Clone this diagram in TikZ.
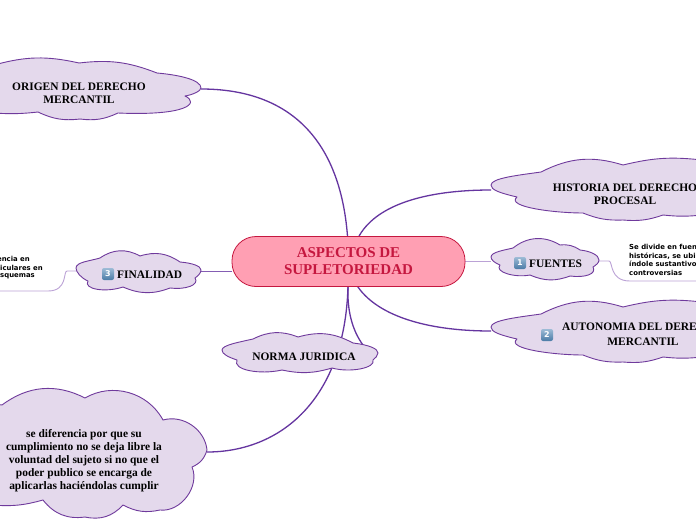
\documentclass[tikz,border=0pt]{standalone}
\usepackage{fontspec}
\setmainfont{Liberation Serif}
\newfontfamily\notefont{DejaVu Sans}
\definecolor{cloudfill}{HTML}{E4D9EC}
\definecolor{cloudline}{HTML}{6F3A9C}
\definecolor{linkdark}{HTML}{6535A0}
\definecolor{linklight}{HTML}{BBA2D6}
\definecolor{mainfill}{HTML}{FF9FB3}
\definecolor{mainline}{HTML}{C5173F}
\definecolor{badgetop}{HTML}{9DBBD6}
\definecolor{badgebot}{HTML}{4A7BA6}
\tikzset{
 cloudshape/.style={draw=cloudline,fill=cloudfill,line width=0.9pt,line join=round},
 lb/.style={bend left=#1},
 cloudtext/.style={font=\fontsize{11.45}{13}\selectfont\bfseries,align=center,text=black,inner sep=0pt},
 mainsize/.style={minimum width=233pt,minimum height=50pt,inner sep=0pt},
 maintext/.style={mainsize,draw=mainline,fill=mainfill,rounded corners=24pt,line width=0.8pt,align=center,text=mainline,font=\fontsize{15}{17}\selectfont\bfseries},
 notetext/.style={font=\notefont\fontsize{6.9}{8.4}\selectfont\bfseries,align=left,inner sep=0pt,text=black},
 mid/.style={draw=linkdark,line width=1.3pt},
 faint/.style={draw=linklight,line width=0.9pt},
 numbadge/.style={top color=badgetop,bottom color=badgebot,text=white,rounded corners=2pt,minimum size=12pt,inner sep=0pt,font=\notefont\fontsize{8}{8}\selectfont\bfseries}
}
\begin{document}
\begin{tikzpicture}[x=1pt,y=-1pt]
\useasboundingbox (0,0) rectangle (696,520);
\fill[white] (0,0) rectangle (696,520);
% connector anchors on the clouds
\coordinate (origenR) at (201,89);
\coordinate (histL) at (491,190);
\coordinate (autoL) at (491,331);
\coordinate (fuenL) at (491,261);
\coordinate (fuenR) at (599,261);
\coordinate (finR) at (201,271);
\coordinate (finL) at (76,271);
\coordinate (normaT) at (363,345);
\coordinate (seR) at (207,452);
\coordinate (noteEndR) at (700,281);
\coordinate (noteEndL) at (-4,291);
\node[mainsize] (main) at (348.5,261) {};
% connectors
\draw[mid] (origenR) .. controls (290,89) and (340,140) .. (347.5,236);
\draw[mid] (histL) .. controls (425,190) and (375,205) .. (358,238);
\draw[mid] (autoL) .. controls (425,331) and (375,315) .. (356,284);
\draw[faint] (main.east) -- (fuenL);
\draw[mid,line width=1pt,draw=linkdark!80] (main.west |- finR) -- (finR);
\draw[mid] (348,286) .. controls (347,310) and (352,330) .. (normaT);
\draw[mid] (348,286) .. controls (345,400) and (280,452) .. (seR);
\draw[faint] (fuenR) -- (609,261) .. controls (613,261) and (609,281) .. (630,281) -- (noteEndR);
\draw[faint] (finL) -- (67,271) .. controls (63,271) and (68,291) .. (48,291) -- (noteEndL);
% clouds
\draw[cloudshape] (-6,65) to[lb=14] (79,63) to[lb=14] (157,73) .. controls (180,75) and (201,80) .. (201,88) .. controls (201,91) and (192,95) .. (185,96) .. controls (200,103) and (187,116) .. (118,113) to[lb=16] (80,119) to[lb=16] (38,112) to[lb=5] (-6,113) -- cycle;
\draw[cloudshape] (491,185) .. controls (491,178) and (520,175) .. (541,172) to[lb=22] (623,165) to[lb=10] (702,160) -- (702,215) to[lb=6] (663,215) to[lb=12] (623,220) to[lb=12] (583,213) .. controls (555,213) and (505,207) .. (517,197) .. controls (500,193) and (491,190) .. (491,185) -- cycle;
\draw[cloudshape] (491,327) .. controls (491,320) and (520,317) .. (541,314) to[lb=22] (623,307) to[lb=10] (702,302) -- (702,357) to[lb=6] (663,357) to[lb=12] (623,362) to[lb=12] (583,355) .. controls (555,355) and (505,349) .. (517,339) .. controls (500,335) and (491,332) .. (491,327) -- cycle;
\draw[cloudshape] (491,257) .. controls (491,252) and (505,250) .. (513,248) to[lb=35] (560,245) to[lb=20] (580,250) .. controls (590,251) and (599,255) .. (599,260) .. controls (599,263) and (596,265) .. (593,267) .. controls (597,274) and (585,278) .. (570,276) to[lb=22] (530,275) .. controls (515,278) and (494,272) .. (500,265) .. controls (495,263) and (491,260) .. (491,257) -- cycle;
\draw[cloudshape] (76,268) .. controls (76,262) and (90,261) .. (100,258) to[lb=32] (140,256) to[lb=26] (180,262) .. controls (192,263) and (201,266) .. (201,270) .. controls (201,273) and (198,276) .. (195,278) .. controls (200,285) and (185,290) .. (170,288) to[lb=22] (123,287) .. controls (105,293) and (83,289) .. (88,281) .. controls (81,278) and (76,272) .. (76,268) -- cycle;
\draw[cloudshape] (222,350) .. controls (222,345) and (240,342) .. (253,339) to[lb=24] (298,337) to[lb=22] (353,343) .. controls (370,345) and (378,349) .. (378,353) .. controls (378,356) and (375,358) .. (373,360) .. controls (376,368) and (350,373) .. (332,368) to[lb=14] (282,370) .. controls (260,375) and (232,370) .. (237,360) .. controls (228,357) and (222,354) .. (222,350) -- cycle;
\draw[cloudshape] (-8,412) to[lb=60] (2,405) to[lb=32] (85,398) to[lb=46] (163,420) to[lb=50] (207,450) to[lb=25] (192,467) to[lb=60] (160,510) to[lb=20] (123,505) to[lb=30] (85,517) to[lb=30] (43,500) to[lb=10] (-8,505) -- cycle;
% main node
\node[maintext] (mainbox) at (348.5,261.5) {ASPECTOS DE\\SUPLETORIEDAD};
% texts
\node[cloudtext] (origen) at (79,93) {ORIGEN DEL DERECHO\\MERCANTIL};
\node[cloudtext] (hist) at (625,194) {HISTORIA DEL DERECHO\\PROCESAL};
\node[cloudtext,anchor=north west] (auto1) at (562,323) {AUTONOMIA DEL DERE};
\node[cloudtext] (auto2) at (643,341.5) {MERCANTIL};
\node[cloudtext,anchor=west] (fuen) at (529,263.5) {FUENTES};
\node[cloudtext,anchor=west] (fin) at (117,274.5) {FINALIDAD};
\node[cloudtext] (norma) at (304,356.5) {NORMA JURIDICA};
\node[cloudtext] (se) at (84,460.5) {se diferencia por que su\\cumplimiento no se deja libre la\\voluntad del sujeto si no que el\\poder publico se encarga de\\aplicarlas haciéndolas cumplir};
\node[numbadge] (b1) at (520,263) {1};
\node[numbadge] (b2) at (547,335) {2};
\node[numbadge] (b3) at (108,274) {3};
\node[notetext,anchor=north west] (noteR) at (629,244.5) {Se divide en fuen\\históricas, se ubi\\índole sustantivo\\controversias};
\node[notetext,anchor=east] (noteL1) at (30,259) {encia en};
\node[notetext,anchor=east] (noteL2) at (43,267.5) {ticulares en};
\node[notetext,anchor=east] (noteL3) at (35,276) {squemas};
\end{tikzpicture}
\end{document}
